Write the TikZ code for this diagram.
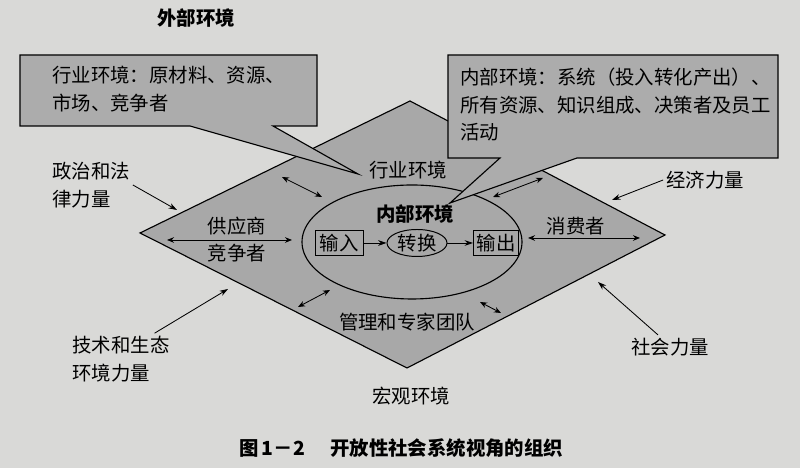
\documentclass[tikz,border=0pt]{standalone}
\usepackage{fontspec}
\setmainfont{Noto Sans CJK SC}
\usetikzlibrary{arrows.meta,
	shapes.geometric}
\definecolor{paper}{HTML}{D9D9D7}
\definecolor{fieldgray}{HTML}{A8A8A8}
\definecolor{notegray}{HTML}{ACACAC}

\begin{document}
\begin{tikzpicture}[font=\fontsize{13.8}{19.5}\selectfont]
        \tikzstyle{dbl}=[{Stealth[length=5pt,width=4pt]}-{Stealth[length=5pt,width=4pt]},line width=0.6pt]
        \tikzstyle{force}=[-{Stealth[length=6pt,width=4pt]},line width=0.6pt]
        \tikzstyle{unitbox}=[draw,fill=fieldgray,minimum width=1.2cm,minimum height=0.6cm,inner sep=1pt,line width=0.7pt]
        \tikzstyle{note}=[draw,fill=notegray,line width=0.8pt]
        \tikzstyle{notetext}=[anchor=north west,align=left,inner sep=0pt]
        \fill[paper] (0,0) rectangle (20,11.7);
        \useasboundingbox (0,0) rectangle (20,11.7);
        % the field
        \coordinate (L) at (3.5,5.875);
        \coordinate (T) at (10.25,9.175);
        \coordinate (R) at (16.625,5.825);
        \coordinate (B) at (10.175,2.5);
        \draw[fill=fieldgray,line width=0.8pt] (L) -- (T) -- (R) -- (B) -- cycle;
        \node[ellipse,draw,line width=0.8pt,minimum width=5.5cm,minimum height=2.85cm] (inner) at (10.3,5.65) {};
        \node[font=\fontsize{13.8}{19.5}\selectfont\bfseries] (innerT) at (10.375,6.35) {内部环境};
        \node[unitbox] (in) at (8.475,5.625) {输入};
        \node[ellipse,draw,line width=0.7pt,minimum width=1.5cm,minimum height=0.675cm,inner sep=0pt] (conv) at (10.425,5.625) {转换};
        \node[unitbox,minimum width=1.125cm] (out) at (12.4,5.625) {输出};
        \draw[force] (in) -- (conv);
        \draw[force] (conv) -- (out);
        \node (ind) at (10.2,7.45) {行业环境};
        \node (mgmt) at (10.175,3.65) {管理和专家团队};
        \node (sup) at (5.925,6.05) {供应商};
        \node (comp) at (5.925,5.375) {竞争者};
        \node (cons) at (14.4,6.05) {消费者};
        \node (macro) at (10.275,1.8) {宏观环境};
        \node[font=\fontsize{13.8}{19.5}\selectfont\bfseries] (ext) at (4.9,11.25) {外部环境};
        % two way links
        \coordinate (sup1) at (4.175,5.7);
        \coordinate (sup2) at (7.3,5.7);
        \coordinate (cons1) at (13.2,5.75);
        \coordinate (cons2) at (16.0,5.75);
        \coordinate (ul1) at (7.05,7.275);
        \coordinate (ul2) at (8.05,6.775);
        \coordinate (ur1) at (13.575,7.25);
        \coordinate (ur2) at (12.325,6.775);
        \coordinate (ll1) at (8.25,4.45);
        \coordinate (ll2) at (7.45,4.025);
        \coordinate (lr1) at (12.0,4.15);
        \coordinate (lr2) at (12.525,3.875);
        \foreach \p in {sup,cons,ul,ur,ll,lr}
          \draw[dbl] (\p1) -- (\p2);
        % outside forces
        \node[align=left,inner sep=2pt] (pol) at (2.275,7.075) {政治和法\\律力量};
        \node[inner sep=2pt] (eco) at (17.625,7.2) {经济力量};
        \node[align=left,inner sep=2pt] (tech) at (3.025,2.725) {技术和生态\\环境力量};
        \node[inner sep=2pt] (soc) at (16.75,3.025) {社会力量};
        \coordinate (polA) at (4.425,6.45);
        \coordinate (ecoA) at (15.3,6.7);
        \coordinate (techA) at (5.7,4.475);
        \coordinate (socA) at (14.95,4.65);
        \draw[force] (pol.east) -- (polA);
        \draw[force] (eco.west) -- (ecoA);
        \draw[force] ([xshift=-0.45cm]tech.north east) -- (techA);
        \draw[force] ([xshift=-0.3cm]soc.north) -- (socA);
        % notes
        \draw[note] (0.5,10.325) -- (7.925,10.325) -- (7.925,8.55) -- (6.825,8.55)
          -- (8.95,7.35) -- (4.75,8.55) -- (0.5,8.55) -- cycle;
        \node[notetext] (indNote) at (1.3,10.05) {行业环境：原材料、资源、\\市场、竞争者};
        \draw[note] (11.2,10.325) -- (19.45,10.325) -- (19.45,7.75) -- (14.425,7.75)
          -- (11.25,6.625) -- (12.5,7.75) -- (11.2,7.75) -- cycle;
        \node[notetext] (innerNote) at (11.5,10.0) {内部环境：系统（投入转化产出）、\\所有资源、知识组成、决策者及员工\\活动};
        \node[font=\fontsize{13.8}{19.5}\selectfont\bfseries] (cap) at (10.03,0.5) {图\,1－2\hspace{1.3em}开放性社会系统视角的组织};
\end{tikzpicture}
\end{document}
